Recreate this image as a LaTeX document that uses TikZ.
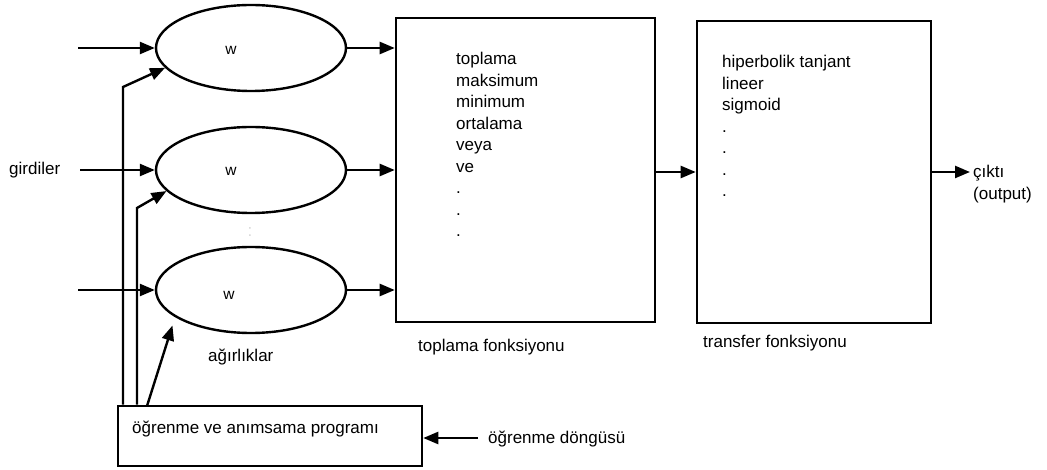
\documentclass[tikz,border=0pt]{standalone}
\usepackage{fontspec}
\setmainfont{Liberation Sans}
\usetikzlibrary{shapes.geometric,arrows.meta}
\begin{document}
\begin{tikzpicture}[x=1pt,y=-1pt, font=\fontsize{17}{21.5}\selectfont,
  arr/.style={line width=2.4pt,-{Triangle[length=15pt,width=12pt]}},
  neuron/.style={ellipse,draw,line width=2.4pt,minimum width=190pt,minimum height=86pt,inner sep=0pt},
  box/.style={draw,line width=2.6pt,rectangle,inner sep=0pt},
  lbl/.style={inner sep=0pt,align=left},
  wlbl/.style={inner sep=0pt,font=\fontsize{15.5}{18}\selectfont}]
\useasboundingbox (0,0) rectangle (1047,470);
% neurons
\node[neuron] (e1) at (251,48) {};
\node[neuron] (e2) at (251,170) {};
\node[neuron] (e3) at (251,290) {};
\node[wlbl] (w1) at (231,50) {w};
\node[wlbl] (w2) at (231,171) {w};
\node[wlbl] (w3) at (229,295) {w};
\node[inner sep=0pt,text=black!15] (vd) at (250,232) {:};
% boxes
\node[box,minimum width=259pt,minimum height=304pt] (b1) at (525.5,170) {};
\node[box,minimum width=234pt,minimum height=302pt] (b2) at (814,172) {};
\node[box,minimum width=304pt,minimum height=60pt] (prog) at (270,436) {};
% texts
\node[lbl,anchor=north west] (t1) at (456,52) {toplama\\maksimum\\minimum\\ortalama\\veya\\ve\\.\\.\\.};
\node[lbl,anchor=north west] (t2) at (722,55) {hiperbolik tanjant\\lineer\\sigmoid\\.\\.\\.\\.};
\node[lbl,anchor=west] (gir) at (9,170) {girdiler};
\node[lbl,anchor=base west] (agr) at (208,362) {ağırlıklar};
\node[lbl,anchor=base west] (tf) at (418,352) {toplama fonksiyonu};
\node[lbl,anchor=base west] (trf) at (703,348) {transfer fonksiyonu};
\node[lbl,anchor=base west] (progt) at (132,433) {öğrenme ve anımsama programı};
\node[lbl,anchor=base west] (dng) at (488,443) {öğrenme döngüsü};
\node[lbl,anchor=north west] (cikti) at (973,165) {çıktı\\(output)};
% inputs
\coordinate (in1) at (78,48);
\coordinate (in2) at (80,170);
\coordinate (in3) at (78,290);
\draw[arr] (in1) -- (e1.west);
\draw[arr] (in2) -- (e2.west);
\draw[arr] (in3) -- (e3.west);
% to summation
\draw[arr] (e1.east) -- (e1.east -| b1.west);
\draw[arr] (e2.east) -- (e2.east -| b1.west);
\draw[arr] (e3.east) -- (e3.east -| b1.west);
\draw[arr] (b2.west -| b1.east) -- (b2.west);
\coordinate (out) at (970,172);
\draw[arr] (b2.east) -- (out);
% learning feedback
\coordinate (k1) at (123,87);
\coordinate (k2) at (137,208);
\coordinate (k3) at (147,406);
\draw[arr] (prog.north -| k1) -- (k1) -- (e1.193);
\draw[arr] (prog.north -| k2) -- (k2) -- (e2.194);
\draw[arr] (k3) -- ([yshift=-10pt]e3.198);
\coordinate (lc) at (478,438);
\draw[arr] (lc) -- (lc -| prog.east);
\end{tikzpicture}
\end{document}
